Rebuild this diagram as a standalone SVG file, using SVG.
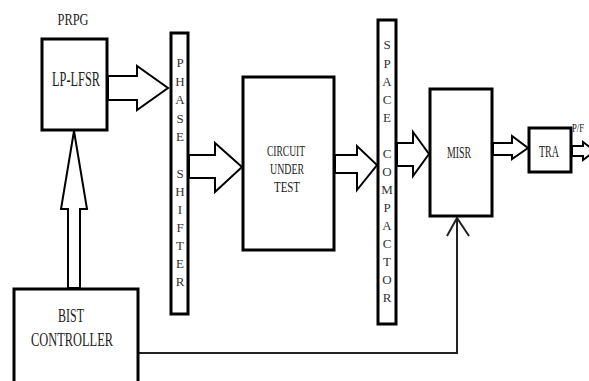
<svg xmlns="http://www.w3.org/2000/svg" width="589" height="381" viewBox="0 0 589 381">
<style>
.box{fill:#fff;stroke:#000;stroke-width:3}
.arr{fill:#fff;stroke:#000;stroke-width:2;stroke-linejoin:miter}
.t{font-family:"Liberation Serif",serif;fill:#222;text-anchor:middle}
.v{font-family:"Liberation Serif",serif;fill:#333;text-anchor:middle;font-size:13px}
.ln{fill:none;stroke:#222;stroke-width:2}
</style>
<rect width="589" height="381" fill="#fff"/>
<g id="connectors">
<polygon class="arr" points="108,76 137,76 137,66 168,88 137,110 137,100 108,100"/>
<polygon class="arr" points="189,155 215,155 215,143 242,167 215,192 215,178 189,178"/>
<polygon class="arr" points="335,155 357,155 357,146 377,165 357,190 357,173 335,173"/>
<polygon class="arr" points="397,143 413,143 413,132 429,154 413,176 413,166 397,166"/>
<polygon class="arr" points="493,143 512,143 512,136 528,148 512,159 512,155 493,155"/>
<polygon class="arr" points="572,146 583,146 583,142 595,151 583,160 583,156 572,156"/>
<polygon class="arr" points="74,131 87,209 80,209 80,288 68,288 68,209 61,209"/>
<polyline class="ln" points="139,353 457,353 457,218"/>
<polyline class="ln" points="447,236 457,218 469,236"/>
</g>
<g id="prpg-label"><text class="t" x="73" y="25" font-size="16" textLength="31" lengthAdjust="spacingAndGlyphs">PRPG</text></g>
<g id="lp-lfsr">
<rect class="box" x="42" y="39" width="65" height="91"/>
<text class="t" x="76" y="86" font-size="20" textLength="48" lengthAdjust="spacingAndGlyphs">LP-LFSR</text>
</g>
<g id="phase-shifter">
<rect class="box" x="171" y="33" width="17" height="281"/>
<text class="v"><tspan x="180" y="67">P</tspan><tspan x="180" y="86">H</tspan><tspan x="180" y="104">A</tspan><tspan x="180" y="123">S</tspan><tspan x="180" y="141">E</tspan><tspan x="180" y="178">S</tspan><tspan x="180" y="196">H</tspan><tspan x="180" y="214">I</tspan><tspan x="180" y="232">F</tspan><tspan x="180" y="250">T</tspan><tspan x="180" y="268">E</tspan><tspan x="180" y="286">R</tspan></text>
</g>
<g id="cut">
<rect class="box" x="243" y="77" width="91" height="173"/>
<text class="t" x="286" y="156" font-size="15" textLength="38" lengthAdjust="spacingAndGlyphs">CIRCUIT</text>
<text class="t" x="287" y="174" font-size="15" textLength="34" lengthAdjust="spacingAndGlyphs">UNDER</text>
<text class="t" x="287" y="192" font-size="15" textLength="26" lengthAdjust="spacingAndGlyphs">TEST</text>
</g>
<g id="space-compactor">
<rect class="box" x="378" y="20" width="18" height="304"/>
<text class="v"><tspan x="387" y="49">S</tspan><tspan x="387" y="68">P</tspan><tspan x="387" y="86">A</tspan><tspan x="387" y="104">C</tspan><tspan x="387" y="122">E</tspan><tspan x="387" y="158">C</tspan><tspan x="387" y="176">O</tspan><tspan x="387" y="194">M</tspan><tspan x="387" y="212">P</tspan><tspan x="387" y="230">A</tspan><tspan x="387" y="248">C</tspan><tspan x="387" y="266">T</tspan><tspan x="387" y="284">O</tspan><tspan x="387" y="302">R</tspan></text>
</g>
<g id="misr">
<rect class="box" x="430" y="89" width="62" height="127"/>
<text class="t" x="459" y="158" font-size="17" textLength="24" lengthAdjust="spacingAndGlyphs">MISR</text>
</g>
<g id="tra">
<rect class="box" x="529" y="128" width="42" height="44"/>
<text class="t" x="549" y="157" font-size="16" textLength="20" lengthAdjust="spacingAndGlyphs">TRA</text>
</g>
<g id="pf-label"><text class="t" x="572" y="132" font-size="13" style="text-anchor:start" textLength="12" lengthAdjust="spacingAndGlyphs">P/F</text></g>
<g id="bist-controller">
<rect class="box" x="14" y="289" width="124" height="100"/>
<text class="t" x="71" y="322" font-size="19" textLength="26" lengthAdjust="spacingAndGlyphs">BIST</text>
<text class="t" x="72" y="346" font-size="19" textLength="82" lengthAdjust="spacingAndGlyphs">CONTROLLER</text>
</g>
</svg>
